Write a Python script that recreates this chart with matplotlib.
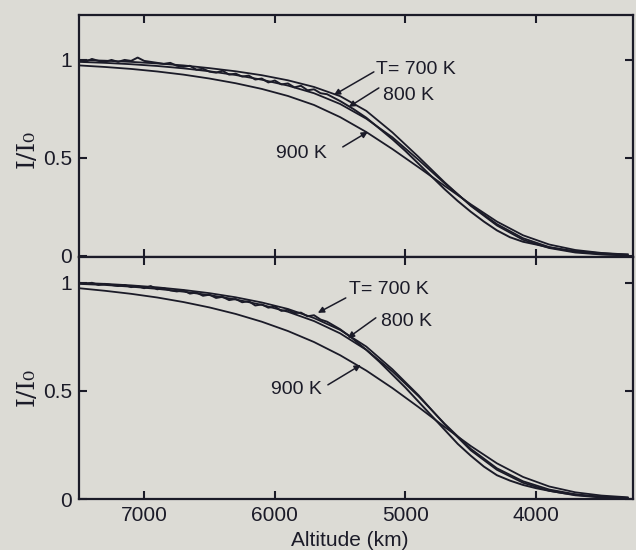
import matplotlib.pyplot as plt
import numpy as np

# altitude grid of the model curves (km)
alt = [7500, 7300, 7100, 6900, 6700, 6500, 6300, 6100, 5900, 5700, 5500,
       5300, 5100, 4900, 4700, 4500, 4300, 4100, 3900, 3700, 3500, 3300]

# upper panel, model curves
top_700 = [1.0, 0.996, 0.99, 0.982, 0.972, 0.958, 0.942, 0.922, 0.896, 0.862, 0.815,
           0.74, 0.63, 0.505, 0.375, 0.255, 0.155, 0.082, 0.04, 0.017, 0.007, 0.002]
top_800 = [0.99, 0.985, 0.978, 0.969, 0.957, 0.942, 0.923, 0.899, 0.869, 0.83, 0.775,
           0.70, 0.605, 0.49, 0.37, 0.258, 0.162, 0.09, 0.045, 0.021, 0.009, 0.004]
top_900 = [0.972, 0.964, 0.954, 0.941, 0.925, 0.905, 0.881, 0.852, 0.816, 0.77, 0.708,
           0.632, 0.545, 0.452, 0.357, 0.263, 0.175, 0.105, 0.058, 0.03, 0.015, 0.007]

# lower panel, model curves
bot_700 = [1.0, 0.995, 0.988, 0.979, 0.967, 0.952, 0.933, 0.909, 0.879, 0.837, 0.782,
           0.705, 0.60, 0.48, 0.345, 0.225, 0.135, 0.075, 0.038, 0.017, 0.007, 0.003]
bot_800 = [0.995, 0.99, 0.982, 0.972, 0.959, 0.943, 0.923, 0.898, 0.866, 0.823, 0.766,
           0.69, 0.59, 0.475, 0.348, 0.232, 0.142, 0.082, 0.044, 0.022, 0.01, 0.005]
bot_900 = [0.975, 0.963, 0.949, 0.932, 0.911, 0.886, 0.856, 0.82, 0.777, 0.726, 0.665,
           0.594, 0.513, 0.425, 0.333, 0.245, 0.165, 0.102, 0.058, 0.031, 0.016, 0.008]

# observed (noisy) profiles
alt_obs = [7500, 7450, 7400, 7350, 7300, 7250, 7200, 7150, 7100, 7050, 7000, 6950,
           6900, 6850, 6800, 6750, 6700, 6650, 6600, 6550, 6500, 6450, 6400, 6350,
           6300, 6250, 6200, 6150, 6100, 6050, 6000, 5950, 5900, 5850, 5800, 5750,
           5700, 5650, 5600, 5500, 5400, 5300, 5200, 5100, 5000, 4900, 4800, 4700,
           4600, 4500, 4400, 4300, 4200, 4100, 4000, 3900, 3800, 3700, 3600, 3500,
           3400, 3300]
top_obs = [1.0, 0.99, 1.005, 0.995, 0.99, 1.0, 0.99, 1.0, 0.995, 1.012, 0.995, 0.99,
           0.985, 0.98, 0.985, 0.97, 0.965, 0.97, 0.95, 0.955, 0.94, 0.935, 0.945, 0.925,
           0.93, 0.915, 0.92, 0.9, 0.905, 0.885, 0.895, 0.875, 0.88, 0.86, 0.868, 0.845,
           0.85, 0.83, 0.825, 0.79, 0.75, 0.705, 0.65, 0.595, 0.535, 0.47, 0.405, 0.34,
           0.28, 0.225, 0.175, 0.13, 0.095, 0.072, 0.058, 0.043, 0.033, 0.024, 0.018, 0.013,
           0.009, 0.007]
bot_obs = [1.0, 0.995, 1.0, 0.99, 0.995, 0.99, 0.985, 0.99, 0.98, 0.985, 0.975, 0.985,
           0.97, 0.975, 0.965, 0.96, 0.965, 0.95, 0.955, 0.94, 0.945, 0.93, 0.935, 0.92,
           0.925, 0.91, 0.915, 0.895, 0.9, 0.885, 0.89, 0.87, 0.875, 0.86, 0.862, 0.845,
           0.85, 0.83, 0.82, 0.785, 0.74, 0.69, 0.635, 0.575, 0.515, 0.45, 0.385, 0.32,
           0.255, 0.2, 0.15, 0.11, 0.085, 0.065, 0.05, 0.038, 0.028, 0.02, 0.014, 0.01,
           0.007, 0.005]

bg = '#dcdbd5'
ink = '#1b1b28'

plt.rcParams['font.family'] = ['Liberation Sans', 'DejaVu Sans']

fig = plt.figure(figsize=(6.36, 5.5), dpi=100, facecolor=bg)
ax1 = fig.add_axes([0.124, 0.533, 0.871, 0.44])
ax2 = fig.add_axes([0.124, 0.0927, 0.871, 0.4403])

for ax, c7, c8, c9, obs in [(ax1, top_700, top_800, top_900, top_obs),
                            (ax2, bot_700, bot_800, bot_900, bot_obs)]:
    ax.set_facecolor(bg)
    ax.plot(alt, c7, color=ink, lw=1.3)
    ax.plot(alt, c8, color=ink, lw=1.3)
    ax.plot(alt, c9, color=ink, lw=1.3)
    ax.plot(alt_obs, obs, color=ink, lw=1.4)
    ax.set_xlim(7500, 3260)
    ax.set_xticks([7000, 6000, 5000, 4000])
    ax.set_yticks([0, 0.5, 1])
    ax.set_yticklabels(['0', '0.5', '1'])
    ax.tick_params(direction='in', length=6, width=1.5, colors=ink, labelsize=15,
                   top=True, right=True, pad=5)
    for s in ax.spines.values():
        s.set_linewidth(1.6)
        s.set_color(ink)

ax1.set_ylim(-0.005, 1.23)
ax2.set_ylim(0, 1.12)
ax1.tick_params(labelbottom=False)

arr = dict(arrowstyle='-|>', color=ink, lw=1.1, mutation_scale=9, shrinkA=0, shrinkB=0)

# upper panel labels
ax1.annotate('', xy=(5548, 0.821), xytext=(5242, 0.939), arrowprops=arr)
ax1.annotate('', xy=(5434, 0.760), xytext=(5204, 0.857), arrowprops=arr)
ax1.annotate('', xy=(5288, 0.633), xytext=(5480, 0.556), arrowprops=arr)
ax1.text(5227, 0.949, 'T= 700 K', fontsize=14, ha='left', va='center', color=ink)
ax1.text(5173, 0.816, '800 K', fontsize=14, ha='left', va='center', color=ink)
ax1.text(5602, 0.52, '900 K', fontsize=14, ha='right', va='center', color=ink)

# lower panel labels
ax2.annotate('', xy=(5671, 0.861), xytext=(5457, 0.93), arrowprops=arr)
ax2.annotate('', xy=(5441, 0.745), xytext=(5227, 0.838), arrowprops=arr)
ax2.annotate('', xy=(5342, 0.62), xytext=(5594, 0.528), arrowprops=arr)
ax2.text(5434, 0.968, 'T= 700 K', fontsize=14, ha='left', va='center', color=ink)
ax2.text(5189, 0.82, '800 K', fontsize=14, ha='left', va='center', color=ink)
ax2.text(5640, 0.505, '900 K', fontsize=14, ha='right', va='center', color=ink)

fig.text(0.042, 1 - 149 / 550, 'I/I₀', rotation=90, fontsize=18, ha='center', va='center',
         color=ink, family=['DejaVu Serif'])
fig.text(0.042, 1 - 387 / 550, 'I/I₀', rotation=90, fontsize=18, ha='center', va='center',
         color=ink, family=['DejaVu Serif'])
fig.text(0.55, 1 - 540 / 550, 'Altitude (km)', fontsize=15, ha='center', va='center', color=ink)

fig.savefig('out.png', dpi=100, facecolor=bg)
